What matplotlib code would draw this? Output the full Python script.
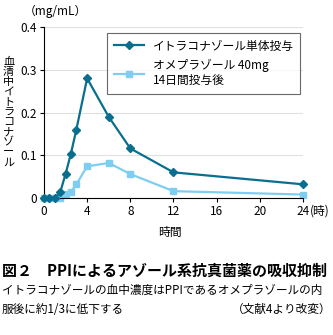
import matplotlib
matplotlib.use("Agg")
from matplotlib import pyplot as plt

plt.rcParams['font.family'] = ['Noto Sans CJK JP', 'DejaVu Sans']

hours = [0, 0.5, 1, 1.5, 2, 2.5, 3, 4, 6, 8, 12, 24]
itra_alone = [0, 0, 0, 0.013, 0.056, 0.104, 0.160, 0.280, 0.190, 0.116, 0.060, 0.032]
with_omep = [0, 0, 0, 0, 0.010, 0.014, 0.032, 0.074, 0.082, 0.056, 0.016, 0.008]

label_alone = "イトラコナゾール単体投与"
label_omep = "オメプラゾール 40mg\n14日間投与後"
xticks = [0, 4, 8, 12, 16, 20, 24]
yticks = [0, 0.1, 0.2, 0.3, 0.4]

dark = "#0a6e8f"
light = "#7fcdf0"

fig = plt.figure(figsize=(3.33, 3.35), dpi=100)
ax = fig.add_axes([0.132, 0.409, 0.778, 0.51])

ax.plot(hours, itra_alone, color=dark, marker="D", markersize=4.5, lw=1.6,
        label=label_alone, zorder=3, clip_on=False)
ax.plot(hours, with_omep, color=light, marker="s", markersize=4.5, lw=1.6,
        label=label_omep, zorder=2, clip_on=False)

ax.set_xlim(0, 24)
ax.set_ylim(0, 0.4)
ax.set_xticks(xticks)
ax.set_xticklabels([str(t) for t in xticks])
ax.set_yticks(yticks)
ax.set_yticklabels(["0", "0.1", "0.2", "0.3", "0.4"])
ax.tick_params(labelsize=8.5, length=3, width=0.8, pad=2)
for s in ["top", "right"]:
    ax.spines[s].set_visible(False)
ax.grid(axis="y", color="#e0e0e0", lw=0.8)
ax.set_axisbelow(True)

leg = ax.legend(loc="upper right", bbox_to_anchor=(1.012, 1.0), fontsize=8.5,
                frameon=True, fancybox=False, edgecolor="#444444",
                handlelength=2.6, borderpad=0.55, labelspacing=0.55,
                handletextpad=0.7)
leg.get_frame().set_linewidth(0.8)

ax.annotate("(時)", xy=(24, 0), xytext=(5, -9.5), textcoords="offset points",
            fontsize=8.5, ha="left", va="center", annotation_clip=False)
fig.text(0.07, 0.965, "（mg/mL）", fontsize=8.5, ha="left", va="center")
fig.text(0.026, 0.665, "\n".join("血清中イトラコナゾール"), fontsize=8,
         ha="center", va="center", linespacing=1.0)
fig.text(0.51, 0.305, "時間", fontsize=8.5, ha="center", va="center")

fig.text(0.006, 0.193, "図２　PPIによるアゾール系抗真菌薬の吸収抑制",
         fontsize=10.8, fontweight="bold", ha="left", va="center")
fig.text(0.006, 0.133, "イトラコナゾールの血中濃度はPPIであるオメプラゾールの内",
         fontsize=8.4, ha="left", va="center")
fig.text(0.006, 0.077, "服後に約1/3に低下する", fontsize=8.4, ha="left", va="center")
fig.text(0.995, 0.077, "（文献4より改変）", fontsize=8.4, ha="right", va="center")

fig.savefig("out.png", dpi=100)
